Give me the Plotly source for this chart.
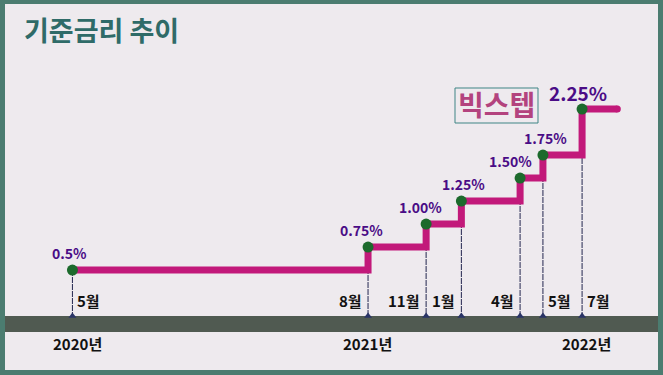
import plotly.graph_objects as go

# ---- data (dates) ----
dates = ["2020-05-29", "2021-08-25", "2021-11-22", "2022-01-15",
         "2022-04-15", "2022-05-20", "2022-07-19"]
rates = [0.5, 0.75, 1.00, 1.25, 1.50, 1.75, 2.25]
rate_labels = ["0.5%", "0.75%", "1.00%", "1.25%", "1.50%", "1.75%", "2.25%"]
month_labels = ["5월", "8월", "11월", "1월", "4월", "5월", "7월"]
line_end_date = "2022-09-11"
year_labels = ["2020년", "2021년", "2022년"]
year_dates = ["2020-05-29", "2021-08-25", "2022-07-19"]
title_text = "기준금리 추이"
badge_text = "빅스텝"

# ---- style ----
FONT = "Noto Sans CJK KR"
BORDER = "#4B7C70"
BG = "#EEEAEE"
BAND = "#505A51"
LINE = "#C2197A"
MARK = "#1C6A2C"
PCT = "#4A0C86"
W, H = 663, 375
month_side = ["left", "right", "right", "right", "right", "left", "left"]
label_dx = [-3, -7, -6, 2, -10, 3, -4]
year_dx = [5, -1, 4]

fig = go.Figure()

# thin drop lines
for d, v in zip(dates, rates):
    fig.add_trace(go.Scatter(x=[d, d], y=[v, 0], mode="lines",
                             line=dict(color="#23264F", width=1, dash="6px,1px"),
                             hoverinfo="skip", showlegend=False))
fig.add_trace(go.Scatter(x=dates, y=[0] * len(dates), mode="markers",
                         marker=dict(symbol="triangle-up", size=7, color="#2A3466"),
                         hoverinfo="skip", showlegend=False))

# step line
fig.add_trace(go.Scatter(x=dates + [line_end_date], y=rates + [rates[-1]],
                         mode="lines", line=dict(color=LINE, width=7, shape="hv"),
                         showlegend=False))
# rounded end cap
fig.add_trace(go.Scatter(x=[line_end_date], y=[rates[-1]], mode="markers",
                         marker=dict(color=LINE, size=7),
                         hoverinfo="skip", showlegend=False))
fig.add_trace(go.Scatter(x=dates, y=rates, mode="markers",
                         marker=dict(color=MARK, size=11),
                         showlegend=False))

ann = []
for i, (d, v, t) in enumerate(zip(dates, rates, rate_labels)):
    big = i == len(dates) - 1
    ann.append(dict(x=d, y=v, text=t, showarrow=False, xanchor="center",
                    yanchor="middle", xshift=label_dx[i], yshift=17,
                    font=dict(family=FONT, size=19 if big else 14,
                              color=PCT, weight="bold")))
for i, (d, m) in enumerate(zip(dates, month_labels)):
    left = month_side[i] == "left"
    ann.append(dict(x=d, y=0, text=m, showarrow=False,
                    xanchor="left" if left else "right", yanchor="middle",
                    xshift=3 if left else -4, yshift=16,
                    font=dict(family=FONT, size=15, color="#111111",
                              weight="bold")))
for i, (d, yl) in enumerate(zip(year_dates, year_labels)):
    ann.append(dict(x=d, y=0, text=yl, showarrow=False, xanchor="center",
                    yanchor="middle", xshift=year_dx[i], yshift=-27,
                    font=dict(family=FONT, size=15, color="#111111",
                              weight="bold")))
ann.append(dict(xref="paper", yref="paper", x=22 / W, y=1 - 30 / H,
                text=title_text, showarrow=False, xanchor="left",
                yanchor="middle",
                font=dict(family=FONT, size=27, color="#2F6B68",
                          weight="bold")))
ann.append(dict(xref="paper", yref="paper", x=496 / W, y=1 - 104 / H,
                text=badge_text, showarrow=False, xanchor="center",
                yanchor="middle",
                font=dict(family=FONT, size=28, color="#B3437E",
                          weight="bold")))

shapes = [
    dict(type="rect", xref="paper", yref="paper", layer="below",
         x0=5 / W, x1=658 / W, y0=1 - 370 / H, y1=1 - 4 / H,
         fillcolor=BG, line=dict(width=0)),
    dict(type="rect", xref="paper", yref="paper", layer="below",
         x0=5 / W, x1=658 / W, y0=1 - 332 / H, y1=1 - 316 / H,
         fillcolor=BAND, line=dict(width=0)),
    dict(type="rect", xref="paper", yref="paper", layer="above",
         x0=455 / W, x1=538 / W, y0=1 - 123 / H, y1=1 - 88 / H,
         fillcolor="rgba(0,0,0,0)", line=dict(color="#3F8585", width=1)),
]

fig.update_layout(
    width=W, height=H, autosize=False,
    margin=dict(l=0, r=0, t=0, b=0),
    paper_bgcolor=BORDER, plot_bgcolor=BORDER,
    xaxis=dict(type="date", range=["2020-02-08", "2022-11-20"],
               visible=False, fixedrange=True),
    yaxis=dict(range=[-0.641, 3.435], visible=False, fixedrange=True),
    annotations=ann, shapes=shapes, showlegend=False,
)

fig.write_html(
    "out.html",
    config={"displayModeBar": False},
    post_script="document.body.style.margin='0';document.body.style.padding='0';document.body.style.overflow='hidden';",
)
